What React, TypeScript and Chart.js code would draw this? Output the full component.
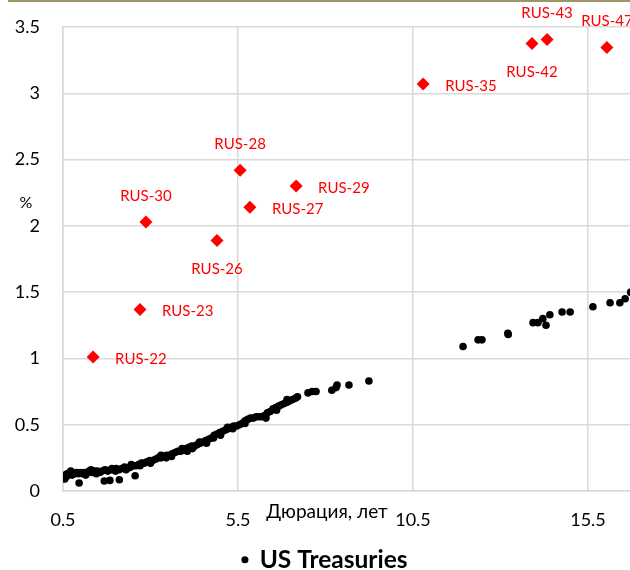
import React, { useEffect, useRef } from "react";
import { Chart, registerables } from "chart.js";

Chart.register(...registerables);

const X_TICKS = [0.5, 5.5, 10.5, 15.5];
const Y_TICKS = [0, 0.5, 1, 1.5, 2, 2.5, 3, 3.5];

const UST_DURATION = [
  0.45, 0.48, 0.52, 0.56, 0.6, 0.65, 0.7, 0.76, 0.82, 0.88, 0.94, 1.0, 1.06, 1.12, 1.18, 1.25, 1.32, 1.4,
  1.48, 1.55, 1.62, 1.7, 1.78, 1.86, 1.94, 2.02, 2.1, 2.18, 2.26, 2.34, 2.42, 2.5, 2.58, 2.66, 2.74, 2.82,
  2.9, 2.98, 3.06, 3.14, 3.22, 3.3, 3.38, 3.46, 3.54, 3.62, 3.7, 3.78, 3.86, 3.94, 4.02, 4.1, 4.18, 4.26,
  4.34, 4.42, 4.5, 4.58, 4.66, 4.74, 4.82, 4.9, 4.98, 5.06, 5.14, 5.22, 5.3, 5.38, 5.46, 5.54, 5.62, 5.7,
  5.78, 5.86, 5.94, 6.02, 6.1, 6.18, 6.26, 6.34, 6.42, 6.5, 6.58, 6.66, 6.74, 6.82, 6.9, 6.98, 7.06, 7.14,
  7.2,
  0.55, 0.62, 1.15, 1.45, 2.0, 2.3, 2.7, 3.0, 3.3, 3.6, 3.9, 4.2, 4.4, 4.6, 4.8, 5.0, 5.2, 5.35, 5.7, 6.3,
  6.6, 6.9, 4.05, 3.45, 0.72, 1.3, 1.9, 2.45,
  7.5, 7.62, 7.73, 8.18, 8.3, 8.33, 8.67, 9.24,
  0.96, 1.68, 1.84, 2.11, 2.56,
  11.93, 12.36, 12.47, 13.21, 13.22, 13.93, 14.07, 14.21, 14.3, 14.41, 14.76, 14.99, 15.64, 16.13, 16.41,
  16.56, 16.72,
];
const UST_YIELD = [
  0.09, 0.11, 0.1, 0.12, 0.11, 0.12, 0.13, 0.12, 0.13, 0.14, 0.13, 0.14, 0.13, 0.14, 0.14, 0.15, 0.14, 0.15,
  0.15, 0.14, 0.15, 0.16, 0.15, 0.16, 0.16, 0.17, 0.16, 0.17, 0.18, 0.17, 0.18, 0.19, 0.19, 0.2, 0.21, 0.21,
  0.22, 0.23, 0.23, 0.24, 0.25, 0.25, 0.26, 0.27, 0.27, 0.28, 0.29, 0.3, 0.3, 0.31, 0.32, 0.33, 0.34, 0.34,
  0.35, 0.36, 0.37, 0.38, 0.39, 0.4, 0.42, 0.43, 0.44, 0.45, 0.46, 0.47, 0.48, 0.49, 0.49, 0.5, 0.51, 0.53,
  0.54, 0.55, 0.55, 0.56, 0.56, 0.56, 0.57, 0.59, 0.6, 0.62, 0.63, 0.64, 0.65, 0.66, 0.67, 0.68, 0.69, 0.7,
  0.71,
  0.09, 0.13, 0.12, 0.13, 0.15, 0.16, 0.19, 0.21, 0.27, 0.26, 0.32, 0.32, 0.37, 0.36, 0.4, 0.42, 0.48, 0.47,
  0.51, 0.55, 0.61, 0.69, 0.3, 0.25, 0.15, 0.16, 0.17, 0.2,
  0.74, 0.75, 0.75, 0.76, 0.78, 0.8, 0.8, 0.83,
  0.06, 0.075, 0.08, 0.085, 0.115,
  1.09, 1.14, 1.14, 1.19, 1.18, 1.27, 1.27, 1.3, 1.25, 1.33, 1.35, 1.35, 1.39, 1.42, 1.42, 1.45, 1.5,
];

const RUS_NAMES = ["RUS-22", "RUS-23", "RUS-30", "RUS-26", "RUS-28", "RUS-27", "RUS-29", "RUS-35", "RUS-42", "RUS-43", "RUS-47"];
const RUS_DURATION = [1.36, 2.7, 2.87, 4.9, 5.56, 5.84, 7.16, 10.79, 13.9, 14.33, 16.04];
const RUS_YIELD = [1.01, 1.37, 2.03, 1.89, 2.42, 2.14, 2.3, 3.07, 3.376, 3.405, 3.346];

const SERIES_UST = "US Treasuries";
const SERIES_RUS = "Russia Eurobonds";
const X_TITLE = "Дюрация, лет";
const Y_TITLE = "%";

const FONT = "Lato, 'Open Sans', sans-serif";

export default function App() {
  const ref = useRef<HTMLCanvasElement | null>(null);

  useEffect(() => {
    if (!ref.current) return;
    const placement: Record<string, string> = {
      "RUS-22": "right", "RUS-23": "right", "RUS-30": "above", "RUS-26": "below", "RUS-28": "above",
      "RUS-27": "right", "RUS-29": "right", "RUS-35": "right", "RUS-42": "below", "RUS-43": "above",
      "RUS-47": "above",
    };
    const decor = {
      id: "decor",
      afterLayout(chart: any) {
        if (chart.legend) {
          chart.legend.left += 10;
          chart.legend.right += 10;
        }
      },
      afterDraw(chart: any) {
        const { ctx, chartArea } = chart;
        ctx.save();
        // top frame line
        ctx.strokeStyle = "#9c9666";
        ctx.lineWidth = 2;
        ctx.beginPath();
        ctx.moveTo(8, 1);
        ctx.lineTo(chart.width, 1);
        ctx.stroke();
        // axis titles
        ctx.fillStyle = "#000";
        ctx.textBaseline = "middle";
        ctx.textAlign = "center";
        ctx.font = `16px ${FONT}`;
        ctx.fillText(Y_TITLE, chartArea.left - 37, chartArea.top + 176);
        ctx.font = `19px ${FONT}`;
        ctx.fillText(X_TITLE, chartArea.left + 264, chartArea.bottom + 21);
        // data labels
        const meta = chart.getDatasetMeta(1);
        ctx.fillStyle = "#ff0000";
        ctx.font = `15px ${FONT}`;
        meta.data.forEach((pt: any, i: number) => {
          const name = RUS_NAMES[i];
          const p = placement[name];
          if (p === "right") {
            ctx.textAlign = "left";
            ctx.fillText(name, pt.x + 22, pt.y + 2);
          } else if (p === "above") {
            ctx.textAlign = "center";
            ctx.fillText(name, pt.x, pt.y - 26);
          } else {
            ctx.textAlign = "center";
            ctx.fillText(name, pt.x, pt.y + 29);
          }
        });
        ctx.restore();
      },
    };

    const chart = new Chart(ref.current, {
      type: "scatter",
      data: {
        datasets: [
          {
            label: SERIES_UST,
            data: UST_DURATION.map((x, i) => ({ x, y: UST_YIELD[i] })),
            backgroundColor: "#000",
            borderColor: "#000",
            pointRadius: 3.8,
            pointBorderWidth: 0,
            pointStyle: "circle",
          },
          {
            label: SERIES_RUS,
            data: RUS_DURATION.map((x, i) => ({ x, y: RUS_YIELD[i] })),
            backgroundColor: "#ff0000",
            borderColor: "#ff0000",
            pointRadius: 6.5,
            pointBorderWidth: 0,
            pointStyle: "rectRot",
          },
        ],
      },
      options: {
        animation: false,
        responsive: false,
        devicePixelRatio: 1,
        layout: { autoPadding: false, padding: { top: 27, right: 0, left: 0, bottom: 0 } },
        scales: {
          x: {
            type: "linear",
            min: 0.5,
            max: 16.7,
            afterBuildTicks: (s: any) => {
              s.ticks = X_TICKS.map((v) => ({ value: v }));
            },
            afterFit: (s: any) => {
              s.height = 52.5;
              s.paddingLeft = 0;
              s.paddingRight = 0;
            },
            grid: { color: "#d9d9d9", lineWidth: 1.5, drawTicks: false },
            border: { color: "#d9d9d9", width: 1.5 },
            ticks: {
              padding: 18,
              color: "#000",
              font: { family: FONT, size: 18 },
              callback: (v: any) => String(v),
            },
          },
          y: {
            type: "linear",
            min: 0,
            max: 3.5,
            afterBuildTicks: (s: any) => {
              s.ticks = Y_TICKS.map((v) => ({ value: v }));
            },
            afterFit: (s: any) => {
              s.width = 63;
              s.paddingTop = 0;
              s.paddingBottom = 0;
            },
            grid: { color: "#d9d9d9", lineWidth: 1.5, drawTicks: false },
            border: { color: "#d9d9d9", width: 1.5 },
            ticks: {
              padding: 23,
              color: "#000",
              font: { family: FONT, size: 18 },
              callback: (v: any) => String(v),
            },
          },
        },
        plugins: {
          legend: {
            position: "bottom",
            labels: {
              filter: (item: any) => item.datasetIndex === 0,
              usePointStyle: true,
              pointStyle: "circle",
              boxWidth: 5,
              boxHeight: 5,
              padding: 4,
              color: "#000",
              font: { family: FONT, size: 24.5, weight: "bold" },
            },
          },
          tooltip: { enabled: false },
        },
      },
      plugins: [decor],
    });
    return () => chart.destroy();
  }, []);

  return (
    <div style={{ position: "fixed", left: 0, top: 0, width: 630, height: 570, overflow: "hidden", background: "#fff" }}>
      <canvas ref={ref} width={630} height={582} style={{ display: "block" }} />
    </div>
  );
}
